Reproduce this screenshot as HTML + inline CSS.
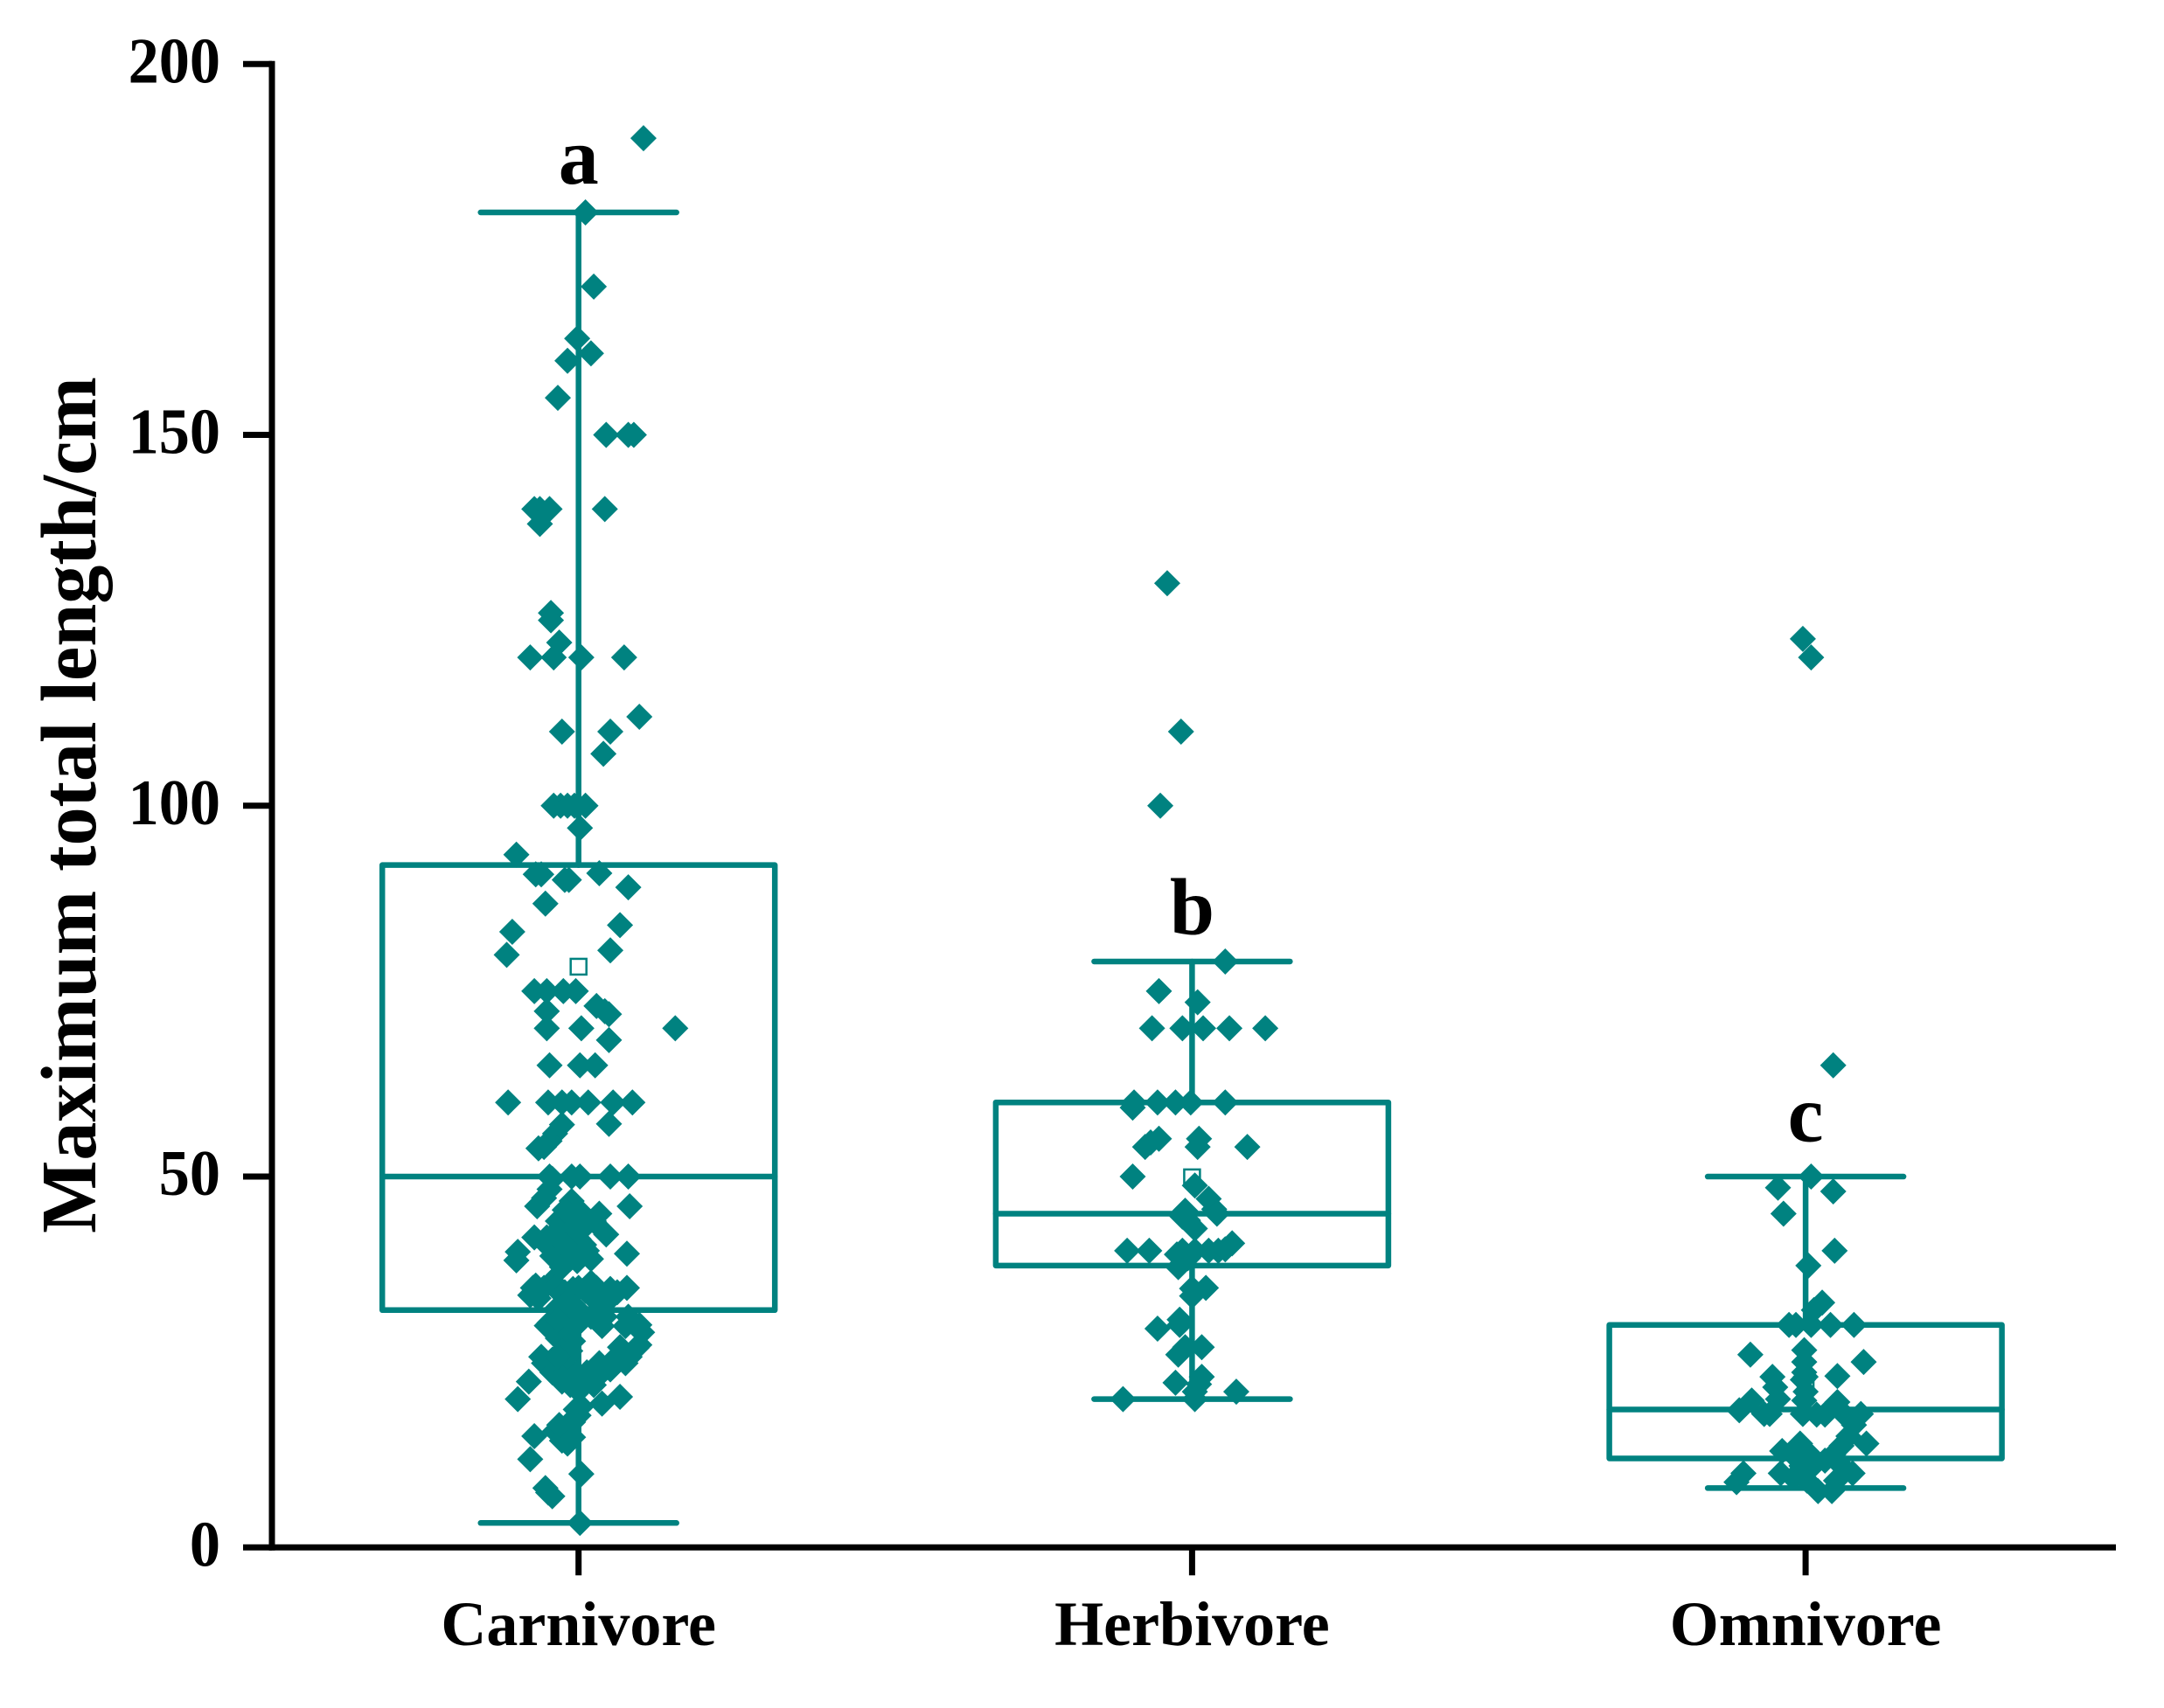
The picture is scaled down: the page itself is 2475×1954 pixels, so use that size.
<!DOCTYPE html>
<html lang="en">
<head>
<meta charset="utf-8">
<title>Maximum total length by feeding group</title>
<style>
html,body{margin:0;padding:0;background:#fff;width:2475px;height:1954px;overflow:hidden}
svg{display:block}
text{font-family:"Liberation Serif",serif;font-weight:bold;fill:#000}
</style>
</head>
<body>
<svg id="chart" xmlns="http://www.w3.org/2000/svg" width="2475" height="1954" viewBox="0 0 2475 1954">
<rect width="2475" height="1954" fill="#fff"/>
<g id="boxes"></g>
<g id="points"></g>
<g id="axes"></g>
<text transform="translate(109,921) rotate(-90) scale(0.98,1)" text-anchor="middle" font-size="90">Maximum total length/cm</text>
</svg>
<script>
const categories = ["Carnivore", "Herbivore", "Omnivore"];
const yTicks = [0, 50, 100, 150, 200];
const sigLetters = ["a", "b", "c"];
const sigLetterLevels = [183.9, 82.7, 54.8];
const whiskerLow = [3.3, 20, 8];
const quartile1 = [32, 38, 12];
const medians = [50, 45, 18.6];
const quartile3 = [92, 60, 30];
const whiskerHigh = [180, 79, 50];
const means = [78.3, 49.9, 22];

const carnivoreValues = [
190,180,170,163,161,160,155,150,150,150,
140,140,140,140,138,126,125,122,120,120,120,120,112,110,110,107,100,100,100,100,100,97,
93.4,90.75,90.75,90,90,90.9,89,86.8,83.9,83,79.9,80.5,
75,75,75,75,73,72.3,71.9,72.3,70,70,68.4,70,
65,65,65,60,60,60,60,60,60,60,
57.1,57,55.8,54.8,53.8,54,50,50,50,50,50,49.7,48.3,47.1,46,46,46.1,45,44.8,
42.2,41.8,44,43.6,42.8,41.6,41.2,40.8,40.4,39.7,39.7,40,39.85,38.7,39.6,
46.7,45.5,45.5,44,42.8,40.8,39.3,38.9,38.9,41.6,40.8,41.8,
38.6,37.8,35.9,35,35,35,35,35,35,34,34.4,32.35,32.8,33.2,
30.3,31.1,31.1,29.85,30,31.1,29.85,27.8,28.2,26.5,26.9,25.7,24.85,
24.85,23.6,22.35,24,23.6,21.9,21.1,24,22.35,20,20.3,19.4,
18.6,16.9,15.7,15.7,14.4,14.85,15,11.9,9.9,8,6.9,7.4,3.3,
29.9,30.7,29.85,31.1,31.1,29.85,29,27.3,27,26,24.85,24.85,23.6,22.8,21.9,25.3,25.7,25.7,26.5,25.7,
35.3,34.85,35.7,34.85,34.4,34.6,33.2,33.6,33.6,32.35,31.5,
16.5,14,16.9,17.8,19
];
const carnivoreJitter = [
47,5,11,-1,9,-8,-15,20,36,40,
-32,-28,-21,19,-28,-20,-20,-14,-35,-18,2,33,44,-12,23,18,-18,-13,-8,-3,5,1,
-45,-31,-27,-10,-7,15,36,-24,30,-48,-52,23,
-32,-23,-11,-2,13,19,22,-23,-23,2,22,70,
-21,1,12,-51,-22,-12,-5,7,25,39,
22,-12,-17,-21,-29,-25,-21,-5,1,23,36,-19,-21,-25,-30,37,-5,15,2,
20,-23,-15,-6,2,-15,-6,4,-19,-10,-2,6,-44,-45,35,
-5,-10,0,11,-15,-23,-19,-6,9,0,-10,-32,
-1,-12,-19,-33,-25,-17,0,13,35,-35,28,-15,-6,13,
-21,-8,9,17,44,36,-10,-4,-15,-12,42,37,34,
-25,-19,-12,-6,17,11,0,23,-36,-44,30,17,
-2,-6,-10,-17,-12,-4,-32,-35,2,-24,-19,-22,1,
-23,-15,-2,2,19,34,46,44,30,34,23,15,6,2,-6,-19,-27,-8,-6,-15,
-31,-4,9,23,-10,5,-8,23,-29,-2,11,
-14,-8,-4,0,2
];

const herbivoreValues = [
130,110,100,79,75,73.5,70,70,70,70,70,
60,60,60,60,60,59.3,54,54.6,55.1,55.1,54,54,50,
48.8,47,45.6,45,45.4,44.6,44.1,43,
40,40,40,40,40,40,41,40.2,39.5,39,37.8,
35,34.9,33.9,30.7,30,29.5,27,27,26,23,22.2,21,21,22,20,20
];
const herbivoreJitter = [
-18,-8,-23,24,-24,4,-29,-7,8,27,53,
-42,-25,-12,-1,24,-43,-34,-30,-24,5,4,40,-43,
2,12,16,18,-5,-7,-3,2,
-47,-31,-7,2,12,19,29,24,-11,-3,-10,
10,0,0,-9,-9,-25,7,-5,-10,7,-12,32,2,5,-50,2
];

const omnivoreValues = [
122.5,120,65,50,48.5,48,45,40,38,33,32,
30,30,30,30,30,26.6,26,25,25,23.6,23,23.1,21.6,22.6,
19.8,19.8,19.6,20,18.5,18,18,18,17.9,17.9,18.3,18,16.5,15,
14,14,13,12.5,12.5,13.7,12.5,11.7,
10,8.8,10,9.4,9,11,10,9,7.6,7.6,11,11.3,
23,21
];
const omnivoreJitter = [
-2,4,20,4,-20,20,-16,21,2,12,6,
-12,-7,4,18,35,-1,-40,-1,42,-1,-24,23,-22,-2,
-39,-1,23,-20,-48,-30,-26,-2,8,14,26,40,35,31,
44,-4,-17,-9,3,26,20,14,
-45,-50,-18,-9,1,26,34,22,9,19,-3,7,
0,0
];

const seriesValues = [carnivoreValues, herbivoreValues, omnivoreValues];
const seriesJitter = [carnivoreJitter, herbivoreJitter, omnivoreJitter];

const TEAL = "#008280";
const svgNS = "http://www.w3.org/2000/svg";
const yScale = v => 1770.3 - v * 8.485;
const xScale = i => 661.7 + i * 701.7;
const jitterScale = j => j * 1.58;
const BOX_HALF = 224.5;
const CAP_HALF = 112;
const DIAMOND = 15;

function make(tag, parent) {
  const el = document.createElementNS(svgNS, tag);
  parent.appendChild(el);
  return el;
}
function tealLine(parent, x1, y1, x2, y2) {
  const l = make("line", parent);
  l.setAttribute("x1", x1);
  l.setAttribute("y1", y1);
  l.setAttribute("x2", x2);
  l.setAttribute("y2", y2);
  l.setAttribute("stroke", TEAL);
  l.setAttribute("stroke-width", 6.5);
  l.setAttribute("stroke-linecap", "round");
  return l;
}
function blackLine(parent, x1, y1, x2, y2) {
  const l = make("line", parent);
  l.setAttribute("x1", x1);
  l.setAttribute("y1", y1);
  l.setAttribute("x2", x2);
  l.setAttribute("y2", y2);
  l.setAttribute("stroke", "#000");
  l.setAttribute("stroke-width", 7);
  return l;
}

const boxes = document.getElementById("boxes");
const points = document.getElementById("points");
const axes = document.getElementById("axes");

categories.forEach((cat, i) => {
  const cx = xScale(i);
  const g = make("g", boxes);
  
  

  const upper = tealLine(g, cx, yScale(quartile3[i]), cx, yScale(whiskerHigh[i]));
  
  
  const lower = tealLine(g, cx, yScale(quartile1[i]), cx, yScale(whiskerLow[i]));
  
  
  const capHi = tealLine(g, cx - CAP_HALF, yScale(whiskerHigh[i]), cx + CAP_HALF, yScale(whiskerHigh[i]));
  
  
  const capLo = tealLine(g, cx - CAP_HALF, yScale(whiskerLow[i]), cx + CAP_HALF, yScale(whiskerLow[i]));
  
  

  const r = make("rect", g);
  
  
  r.setAttribute("x", cx - BOX_HALF);
  r.setAttribute("y", yScale(quartile3[i]));
  r.setAttribute("width", BOX_HALF * 2);
  r.setAttribute("height", yScale(quartile1[i]) - yScale(quartile3[i]));
  r.setAttribute("fill", "none");
  r.setAttribute("stroke", TEAL);
  r.setAttribute("stroke-width", 6.5);
  r.setAttribute("stroke-linejoin", "round");

  const med = tealLine(g, cx - BOX_HALF, yScale(medians[i]), cx + BOX_HALF, yScale(medians[i]));
  
  

  const m = make("rect", g);
  
  
  m.setAttribute("x", cx - 9);
  m.setAttribute("y", yScale(means[i]) - 9);
  m.setAttribute("width", 18);
  m.setAttribute("height", 18);
  m.setAttribute("fill", "#fff");
  m.setAttribute("stroke", TEAL);
  m.setAttribute("stroke-width", 2.5);

  const vals = seriesValues[i];
  const jits = seriesJitter[i];
  vals.forEach((v, k) => {
    const px = cx + jitterScale(jits[k]);
    const py = yScale(v);
    const d = make("polygon", points);
    
    
    d.setAttribute("fill", TEAL);
    d.setAttribute("points",
      px + "," + (py - DIAMOND) + " " + (px + DIAMOND) + "," + py + " " + px + "," + (py + DIAMOND) + " " + (px - DIAMOND) + "," + py);
  });

  const tick = blackLine(axes, cx, yScale(0), cx, yScale(0) + 32);
  
  

  const lab = make("text", axes);
  
  
  lab.setAttribute("x", cx);
  lab.setAttribute("y", 1882);
  lab.setAttribute("text-anchor", "middle");
  lab.setAttribute("font-size", 72);
  lab.textContent = cat;

  const sig = make("text", axes);
  
  
  sig.setAttribute("x", cx);
  sig.setAttribute("y", yScale(sigLetterLevels[i]));
  sig.setAttribute("text-anchor", "middle");
  sig.setAttribute("font-size", 92);
  sig.textContent = sigLetters[i];
});

const yAxis = blackLine(axes, 311, yScale(200) - 3.5, 311, yScale(0) + 3.5);


const xAxis = blackLine(axes, 308, yScale(0), 2420, yScale(0));



yTicks.forEach(t => {
  const tk = blackLine(axes, 278, yScale(t), 311, yScale(t));
  
  
  const lb = make("text", axes);
  
  
  lb.setAttribute("transform", "translate(252," + (yScale(t) + 21) + ") scale(0.95,1)");
  lb.setAttribute("text-anchor", "end");
  lb.setAttribute("font-size", 74);
  lb.textContent = t;
});
</script>
</body>
</html>
